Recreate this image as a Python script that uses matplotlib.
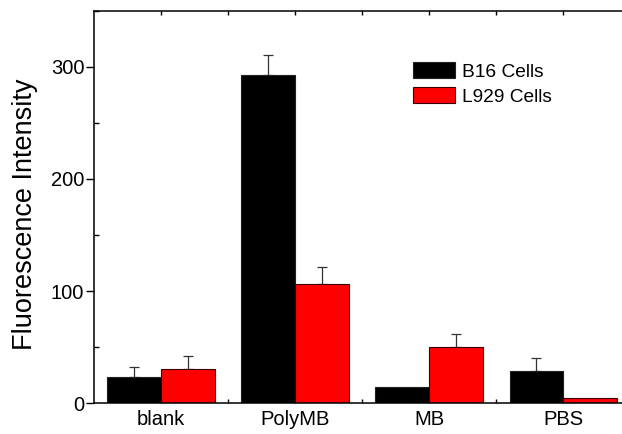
import numpy as np
import matplotlib.pyplot as plt
from matplotlib.ticker import MultipleLocator, FixedLocator

plt.rcParams['font.family'] = ['Liberation Sans', 'DejaVu Sans']

# data
groups = ['blank', 'PolyMB', 'MB', 'PBS']
b16 = [23, 293, 14.5, 28.5]
b16_err = [9.5, 17.5, 0, 11.5]
l929 = [30.5, 106, 50, 4.5]
l929_err = [11.5, 15, 12, 0]

x = np.arange(1, len(groups) + 1)
w = 0.4

fig = plt.figure(figsize=(6.22, 4.34), dpi=100)
ax = fig.add_axes([0.1511, 0.0714, 0.862, 0.9033])

ax.bar(x - w / 2, b16, w, color='black', edgecolor='#202020', linewidth=0.8,
       label='B16 Cells', zorder=2)
ax.bar(x + w / 2, l929, w, color='red', edgecolor='#3a0000', linewidth=0.8,
       label='L929 Cells', zorder=2)


def up_errors(xs, ys, es):
    # one-sided (upper) error bars, skip the ones with no error
    for xi, yi, ei in zip(xs, ys, es):
        if ei > 0:
            ax.errorbar(xi, yi, yerr=[[0], [ei]], fmt='none', ecolor='#333333',
                        elinewidth=0.9, capsize=3.3, capthick=0.9, zorder=1)


up_errors(x - w / 2, b16, b16_err)
up_errors(x + w / 2, l929, l929_err)

ax.set_xlim(0.5, 4.5)
ax.set_ylim(0, 350)
ax.set_xticks(x)
ax.set_xticklabels(groups)
ax.xaxis.set_minor_locator(FixedLocator([1.5, 2.5, 3.5]))
ax.yaxis.set_major_locator(FixedLocator([0, 100, 200, 300]))
ax.yaxis.set_minor_locator(MultipleLocator(50))

ax.tick_params(axis='x', which='both', direction='in', length=3, width=1,
               top=True, labelsize=14.5, pad=5)
ax.tick_params(axis='y', which='major', direction='out', length=5.5, width=1,
               labelsize=14.5, pad=1.5)
ax.tick_params(axis='y', which='minor', direction='in', length=3.5, width=1)

for s in ax.spines.values():
    s.set_linewidth(1.1)
ax.spines['right'].set_visible(False)

ax.set_ylabel('Fluorescence Intensity', fontsize=19.5)
ax.yaxis.set_label_coords(-0.104, 0.481)

ax.legend(loc='upper left', bbox_to_anchor=(0.595, 0.87), frameon=False,
          fontsize=13.8, handlelength=2.2, handleheight=0.9, handletextpad=0.35,
          labelspacing=0.35, borderpad=0, borderaxespad=0)

fig.savefig('out.png', dpi=100)
